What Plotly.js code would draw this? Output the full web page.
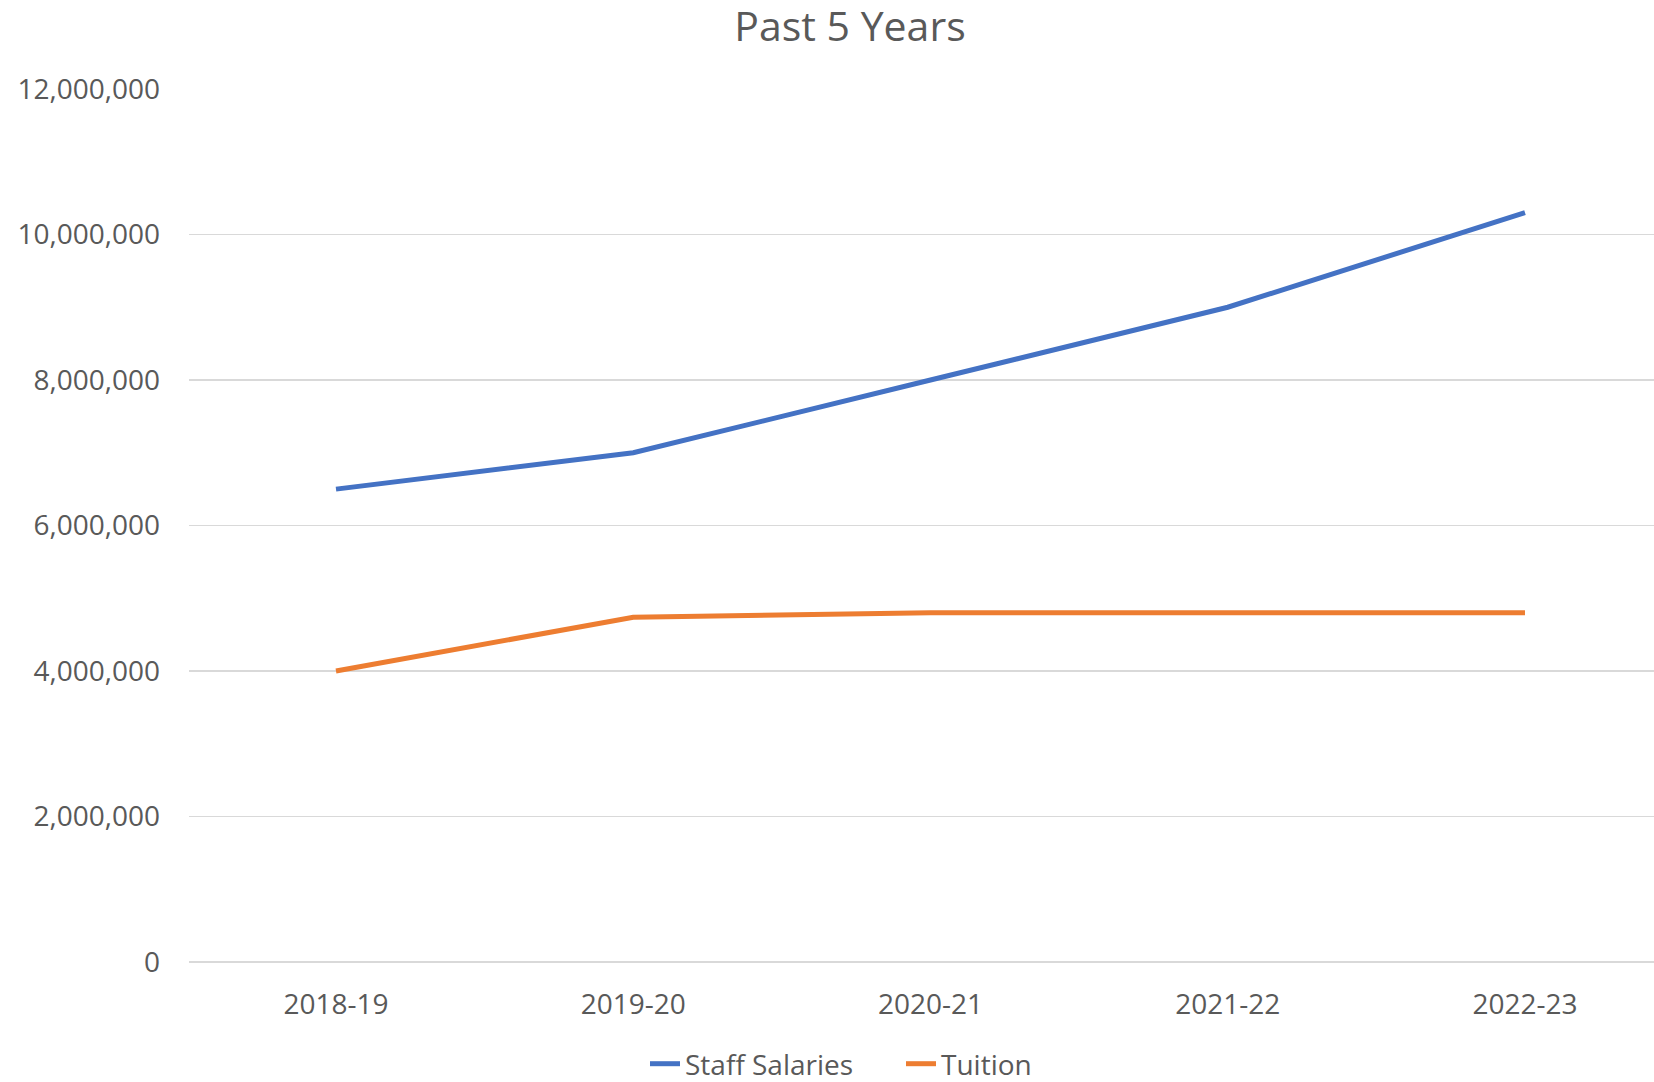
<!DOCTYPE html>
<html>
<head>
<meta charset="utf-8">
<script src="https://cdn.plot.ly/plotly-3.0.1.min.js"></script>
<style>
  html, body { margin: 0; padding: 0; background: #fff; overflow: hidden; }
  #chart { width: 1654px; height: 1082px; }
</style>
</head>
<body>
<div id="chart"></div>
<script>
const categories = ["2018-19", "2019-20", "2020-21", "2021-22", "2022-23"];
const staffSalaries = [6500000, 7000000, 8000000, 9000000, 10300000];
const tuition = [4000000, 4740000, 4800000, 4800000, 4800000];
const yTicks = [0, 2000000, 4000000, 6000000, 8000000, 10000000, 12000000];
const yTickLabels = ["0", "2,000,000", "4,000,000", "6,000,000", "8,000,000", "10,000,000", "12,000,000"];

const FONT = "'Open Sans', 'Noto Sans', sans-serif";
const TXT = "#595959";

const traces = [
  {
    x: categories, y: staffSalaries, name: "Staff Salaries",
    type: "scatter", mode: "lines",
    line: { color: "#4472C4", width: 5 }
  },
  {
    x: categories, y: tuition, name: "Tuition",
    type: "scatter", mode: "lines",
    line: { color: "#ED7D31", width: 5 }
  }
];

const layout = {
  width: 1654, height: 1082,
  paper_bgcolor: "#ffffff", plot_bgcolor: "#ffffff",
  margin: { l: 189, r: 0, t: 89, b: 120, pad: 0 },
  font: { family: FONT, color: TXT, size: 28 },
  title: {
    text: "Past 5 Years",
    font: { family: FONT, size: 41, color: TXT },
    xref: "container", yref: "container",
    x: 850 / 1654, xanchor: "center",
    y: 1 - 27 / 1082, yanchor: "middle"
  },
  xaxis: {
    type: "category",
    range: [-0.4945, 4.434],
    showgrid: false, zeroline: false, showline: false,
    ticks: "",
    tickfont: { family: FONT, size: 28, color: TXT },
    ticklabelstandoff: 23,
    fixedrange: true
  },
  yaxis: {
    range: [0, 12000000],
    tickvals: yTicks, ticktext: yTickLabels,
    showgrid: true, gridcolor: "#D9D9D9", gridwidth: 1.5,
    zeroline: true, zerolinecolor: "#D9D9D9", zerolinewidth: 1.5,
    showline: false,
    ticks: "",
    tickfont: { family: FONT, size: 28, color: TXT },
    ticklabelstandoff: 28,
    fixedrange: true
  },
  showlegend: true,
  legend: {
    orientation: "h",
    xref: "container", yref: "container",
    x: 901 / 1654, xanchor: "center",
    y: 1 - 1064 / 1082, yanchor: "middle",
    font: { family: FONT, size: 28, color: TXT },
    entrywidth: 211,
    bgcolor: "rgba(0,0,0,0)"
  }
};

Plotly.newPlot("chart", traces, layout, { staticPlot: true, displayModeBar: false });
</script>
</body>
</html>
